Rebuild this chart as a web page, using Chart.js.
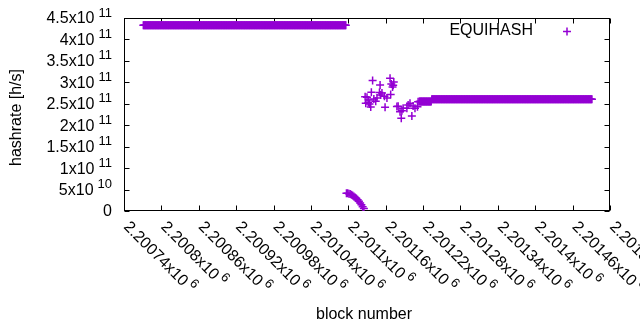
<!DOCTYPE html>
<html>
<head>
<meta charset="utf-8">
<script src="https://cdn.jsdelivr.net/npm/chart.js@4"></script>
<style>
  html, body { margin: 0; background: #fff; }
  canvas { display: block; }
</style>
</head>
<body>
<canvas id="myChart" width="640" height="330"></canvas>
<script>
// flat stretches: same hashrate on every block from start to end
const runStart = [2200771, 2201214, 2201234];
const runEnd = [2201096, 2201233, 2201491];
const runValue = [4.33e11, 2.555e11, 2.605e11];

// the drop after the first stretch
const dropBlocks = [2201097, 2201099, 2201101, 2201103, 2201105, 2201107, 2201109, 2201111,
    2201113, 2201115, 2201117, 2201119, 2201121, 2201123, 2201125];
const dropValues = [4.15e10, 4.12e10, 4.05e10, 3.95e10, 3.8e10, 3.6e10, 3.4e10, 3.15e10,
    2.9e10, 2.6e10, 2.25e10, 1.85e10, 1.45e10, 1.0e10, 0.6e10];

// scattered points before the second stretch
const scatterBlocks = [2201127, 2201128, 2201130, 2201132, 2201133, 2201134, 2201136, 2201137,
    2201139, 2201141, 2201144, 2201146, 2201150, 2201151, 2201152, 2201154, 2201158, 2201159,
    2201162, 2201167, 2201168, 2201169, 2201171, 2201172, 2201173, 2201178, 2201180, 2201183,
    2201185, 2201186, 2201188, 2201194, 2201196, 2201199, 2201202, 2201204, 2201207, 2201211, 2201212];
const scatterValues = [2.665e11, 2.51e11, 2.65e11, 2.535e11, 2.59e11, 2.495e11, 2.425e11, 2.77e11,
    3.045e11, 2.61e11, 2.56e11, 2.635e11, 2.765e11, 2.94e11, 2.705e11, 2.75e11, 2.675e11, 2.42e11,
    2.635e11, 3.095e11, 2.715e11, 2.96e11, 2.89e11, 2.93e11, 3.01e11, 2.435e11, 2.44e11, 2.315e11,
    2.16e11, 2.34e11, 2.395e11, 2.395e11, 2.47e11, 2.51e11, 2.215e11, 2.45e11, 2.395e11, 2.43e11, 2.55e11];

const xTicks = [2200740, 2200800, 2200860, 2200920, 2200980, 2201040, 2201100,
    2201160, 2201220, 2201280, 2201340, 2201400, 2201460, 2201520];
const xTickLabels = ['2.20074x10', '2.2008x10', '2.20086x10', '2.20092x10', '2.20098x10', '2.20104x10',
    '2.2011x10', '2.20116x10', '2.20122x10', '2.20128x10', '2.20134x10', '2.2014x10', '2.20146x10', '2.20152x10'];
const xTickExp = ['6', '6', '6', '6', '6', '6', '6', '6', '6', '6', '6', '6', '6', '6'];

const yTicks = [0, 5e10, 1e11, 1.5e11, 2e11, 2.5e11, 3e11, 3.5e11, 4e11, 4.5e11];
const yTickLabels = ['0', '5x10', '1x10', '1.5x10', '2x10', '2.5x10', '3x10', '3.5x10', '4x10', '4.5x10'];
const yTickExp = ['', '10', '11', '11', '11', '11', '11', '11', '11', '11'];

const purple = '#9400d3';
const font = '16px "Liberation Sans", Arial, sans-serif';
const supFont = '13px "Liberation Sans", Arial, sans-serif';

function buildPoints() {
    const points = [];
    for (let i = 0; i < runStart.length; i++) {
        for (let b = runStart[i]; b <= runEnd[i]; b++) {
            points.push({ x: b, y: runValue[i] });
        }
    }
    dropBlocks.forEach((b, i) => points.push({ x: b, y: dropValues[i] }));
    scatterBlocks.forEach((b, i) => points.push({ x: b, y: scatterValues[i] }));
    return points;
}

const gnuplotFrame = {
    id: 'gnuplotFrame',
    beforeDatasetsDraw(chart) {
        const { ctx, chartArea: a, scales: { x, y } } = chart;
        const L = Math.round(a.left) + 0.5, R = Math.round(a.right) - 0.5;
        const T = Math.round(a.top) + 0.5, B = Math.round(a.bottom) - 0.5;
        ctx.save();
        ctx.strokeStyle = '#000';
        ctx.lineWidth = 1;
        ctx.strokeRect(L, T, R - L, B - T);

        // inward ticks on all four sides
        ctx.beginPath();
        xTicks.forEach(v => {
            const px = Math.round(x.getPixelForValue(v)) + 0.5;
            ctx.moveTo(px, B); ctx.lineTo(px, B - 5);
            ctx.moveTo(px, T); ctx.lineTo(px, T + 5);
        });
        yTicks.forEach(v => {
            const py = Math.round(y.getPixelForValue(v)) + 0.5;
            ctx.moveTo(L, py); ctx.lineTo(L + 5, py);
            ctx.moveTo(R, py); ctx.lineTo(R - 5, py);
        });
        ctx.stroke();

        ctx.fillStyle = '#000';
        ctx.textBaseline = 'middle';

        // y tick labels, right aligned with superscript exponent
        yTicks.forEach((v, i) => {
            const py = y.getPixelForValue(v) + 1;
            ctx.font = font;
            const wb = ctx.measureText(yTickLabels[i]).width;
            ctx.font = supFont;
            const we = yTickExp[i] ? ctx.measureText(yTickExp[i]).width + 4 : 0;
            const right = 112;
            ctx.textAlign = 'left';
            ctx.font = font;
            ctx.fillText(yTickLabels[i], right - we - wb, py);
            if (yTickExp[i]) {
                ctx.font = supFont;
                ctx.fillText(yTickExp[i], right - we + 4, py - 6);
            }
        });

        // x tick labels, rotated down to the right
        xTicks.forEach((v, i) => {
            const px = x.getPixelForValue(v);
            ctx.save();
            ctx.translate(px + 2, B + 14);
            ctx.rotate(Math.PI / 4);
            ctx.textAlign = 'left';
            ctx.font = font;
            ctx.fillText(xTickLabels[i], 0, 0);
            const wb = ctx.measureText(xTickLabels[i]).width;
            ctx.font = supFont;
            ctx.fillText(xTickExp[i], wb + 3, -6);
            ctx.restore();
        });

        // axis titles
        ctx.font = font;
        ctx.textAlign = 'center';
        ctx.fillText('block number', (a.left + a.right) / 2 - 3, 315);
        ctx.save();
        ctx.translate(17, (a.top + a.bottom) / 2 + 3);
        ctx.rotate(-Math.PI / 2);
        ctx.fillText('hashrate [h/s]', 0, 0);
        ctx.restore();

        // key
        ctx.textAlign = 'right';
        ctx.fillText('EQUIHASH', 533, 31);
        ctx.strokeStyle = purple;
        ctx.lineWidth = 1.5;
        ctx.beginPath();
        ctx.moveTo(563, 31.5); ctx.lineTo(571, 31.5);
        ctx.moveTo(567, 27.5); ctx.lineTo(567, 35.5);
        ctx.stroke();
        ctx.restore();
    }
};

function makeChart() {
    const ctx = document.getElementById('myChart');

    new Chart(ctx, {
        type: 'scatter',
        data: {
            datasets: [{
                label: 'EQUIHASH',
                data: buildPoints(),
                pointStyle: 'cross',
                pointRadius: 4,
                borderWidth: 1.5,
                borderColor: purple,
                backgroundColor: purple
            }]
        },
        options: {
            responsive: false,
            animation: false,
            events: [],
            layout: {
                padding: { left: 124, right: 30, top: 18, bottom: 119 }
            },
            plugins: {
                legend: { display: false },
                tooltip: { enabled: false }
            },
            scales: {
                x: {
                    type: 'linear',
                    min: 2200740,
                    max: 2201520,
                    display: false
                },
                y: {
                    min: 0,
                    max: 4.5e11,
                    display: false
                }
            }
        },
        plugins: [gnuplotFrame]
    });
}

makeChart();
</script>
</body>
</html>
